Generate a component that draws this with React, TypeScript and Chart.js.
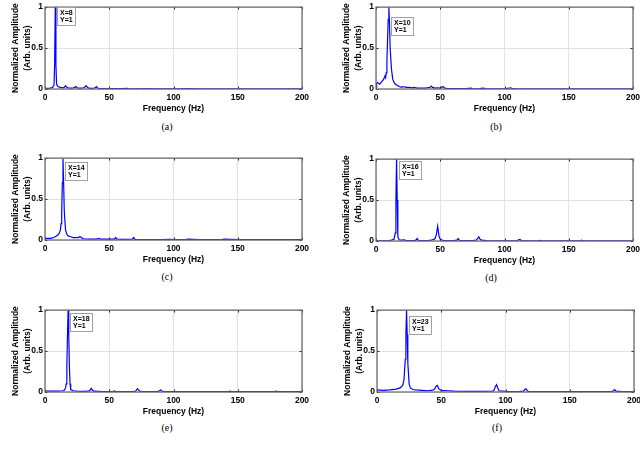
import React, { useEffect, useRef } from "react";
import { Chart, registerables } from "chart.js";

Chart.register(...registerables);

// ---------- data ----------
const xTickValues = [0, 50, 100, 150, 200];
const yTickValues = [0, 0.5, 1];
const xAxisTitle = "Frequency (Hz)";
const yAxisTitle = ["Normalized Amplitude", "(Arb. units)"];
const captions = ["(a)", "(b)", "(c)", "(d)", "(e)", "(f)"];
const peakFreqs = [8, 10, 14, 16, 18, 23];
const peakAmps = [1, 1, 1, 1, 1, 1];

const freqA = [0, 2, 4, 5, 6, 7, 7.5, 8, 8.5, 9, 10, 12, 14, 15, 16, 17, 18, 20, 22, 23, 24, 25, 26, 28, 30, 31, 32, 33, 34, 36, 38, 39, 40, 41, 42, 45, 48, 50, 55, 60, 64, 65, 70, 72, 73, 80, 88, 96, 104, 112, 120, 136, 150, 160, 176, 190, 200];
const ampA = [0.005, 0.008, 0.01, 0.015, 0.02, 0.05, 0.3, 1, 0.3, 0.06, 0.03, 0.02, 0.015, 0.02, 0.04, 0.02, 0.012, 0.01, 0.012, 0.02, 0.03, 0.015, 0.01, 0.01, 0.015, 0.025, 0.04, 0.02, 0.01, 0.008, 0.01, 0.015, 0.03, 0.012, 0.006, 0.005, 0.006, 0.004, 0.004, 0.004, 0.008, 0.003, 0.003, 0.006, 0.003, 0.004, 0.003, 0.003, 0.003, 0.004, 0.003, 0.003, 0.002, 0.003, 0.002, 0.002, 0.002];

const freqB = [0, 0.5, 1, 2, 3, 4, 5, 6, 7, 7.5, 8, 8.5, 9, 9.5, 10, 10.5, 11, 12, 13, 14, 15, 16, 17, 18, 20, 21, 22, 24, 26, 28, 30, 31, 32, 34, 36, 38, 40, 42, 43, 44, 46, 48, 50, 52, 53, 55, 60, 65, 70, 74, 75, 80, 84, 85, 90, 100, 105, 106, 110, 120, 130, 140, 150, 160, 170, 180, 190, 200];
const ampB = [0.02, 0.07, 0.08, 0.07, 0.06, 0.08, 0.1, 0.12, 0.16, 0.14, 0.2, 0.35, 0.6, 0.85, 1, 0.8, 0.5, 0.25, 0.12, 0.08, 0.06, 0.05, 0.04, 0.03, 0.02, 0.03, 0.025, 0.02, 0.02, 0.015, 0.02, 0.015, 0.01, 0.01, 0.01, 0.01, 0.015, 0.02, 0.035, 0.02, 0.01, 0.015, 0.01, 0.03, 0.015, 0.005, 0.005, 0.004, 0.004, 0.01, 0.003, 0.004, 0.01, 0.003, 0.003, 0.003, 0.015, 0.004, 0.003, 0.003, 0.003, 0.003, 0.003, 0.003, 0.003, 0.003, 0.003, 0.003];

const freqC = [0, 2, 4, 6, 8, 10, 11, 12, 12.5, 13, 13.5, 14, 14.5, 15, 16, 17, 18, 20, 22, 24, 26, 27, 28, 29, 30, 35, 40, 41, 42, 43, 45, 50, 54, 55, 56, 60, 68, 69, 70, 75, 83, 90, 97, 100, 110, 111, 120, 130, 138, 139, 150, 160, 170, 180, 190, 200];
const ampC = [0.02, 0.02, 0.02, 0.025, 0.04, 0.06, 0.08, 0.12, 0.2, 0.35, 0.7, 1, 0.7, 0.35, 0.12, 0.07, 0.05, 0.04, 0.03, 0.03, 0.03, 0.04, 0.035, 0.02, 0.015, 0.01, 0.01, 0.015, 0.02, 0.01, 0.01, 0.01, 0.01, 0.03, 0.01, 0.008, 0.01, 0.03, 0.008, 0.006, 0.006, 0.005, 0.008, 0.005, 0.006, 0.01, 0.005, 0.005, 0.006, 0.01, 0.004, 0.004, 0.004, 0.006, 0.004, 0.004];

const freqD = [0, 5, 10, 12, 14, 15, 15.5, 16, 16.5, 17, 18, 20, 22, 23, 26, 30, 31, 32, 33, 36, 40, 43, 44, 45, 46, 47, 48, 49, 50, 51, 52, 55, 60, 63, 64, 65, 70, 75, 78, 79, 80, 81, 82, 84, 86, 90, 100, 110, 111, 112, 113, 120, 127, 128, 129, 140, 143, 144, 145, 159, 160, 161, 170, 180, 190, 200];
const ampD = [0.003, 0.003, 0.005, 0.01, 0.02, 0.1, 0.5, 1, 0.5, 0.05, 0.015, 0.01, 0.015, 0.008, 0.005, 0.005, 0.01, 0.03, 0.008, 0.005, 0.005, 0.01, 0.015, 0.02, 0.03, 0.08, 0.18, 0.06, 0.02, 0.015, 0.008, 0.005, 0.005, 0.01, 0.03, 0.006, 0.004, 0.004, 0.01, 0.03, 0.05, 0.02, 0.01, 0.008, 0.004, 0.003, 0.003, 0.005, 0.015, 0.02, 0.006, 0.003, 0.004, 0.008, 0.003, 0.003, 0.003, 0.006, 0.003, 0.003, 0.01, 0.003, 0.003, 0.003, 0.003, 0.003];

const freqE = [0, 5, 10, 14, 15, 16, 16.5, 17, 17.5, 18, 18.5, 19, 19.5, 20, 22, 25, 30, 34, 35, 36, 37, 38, 45, 53, 54, 55, 60, 70, 71, 72, 73, 74, 80, 88, 89, 90, 91, 92, 100, 110, 120, 130, 143, 144, 145, 160, 170, 179, 180, 181, 190, 200];
const ampE = [0.01, 0.01, 0.01, 0.015, 0.02, 0.05, 0.1, 0.3, 0.7, 1, 0.7, 0.3, 0.1, 0.03, 0.015, 0.01, 0.008, 0.01, 0.02, 0.045, 0.02, 0.01, 0.006, 0.006, 0.012, 0.005, 0.005, 0.006, 0.02, 0.04, 0.02, 0.008, 0.005, 0.008, 0.015, 0.025, 0.012, 0.006, 0.004, 0.004, 0.004, 0.004, 0.004, 0.01, 0.004, 0.004, 0.004, 0.004, 0.01, 0.004, 0.004, 0.004];

const freqF = [0, 5, 10, 15, 18, 20, 21, 22, 22.5, 23, 23.5, 24, 25, 26, 28, 30, 35, 40, 44, 45, 46, 47, 48, 50, 55, 60, 70, 80, 90, 91, 92, 93, 94, 95, 100, 110, 114, 115, 116, 117, 118, 125, 140, 150, 160, 170, 183, 184, 185, 186, 190, 200];
const ampF = [0.025, 0.02, 0.025, 0.035, 0.05, 0.08, 0.15, 0.4, 0.7, 1, 0.7, 0.35, 0.1, 0.05, 0.03, 0.025, 0.02, 0.015, 0.025, 0.04, 0.07, 0.08, 0.04, 0.02, 0.015, 0.01, 0.008, 0.008, 0.01, 0.02, 0.06, 0.09, 0.05, 0.015, 0.008, 0.006, 0.01, 0.03, 0.04, 0.015, 0.006, 0.005, 0.005, 0.005, 0.005, 0.005, 0.008, 0.015, 0.03, 0.01, 0.005, 0.005];

const seriesFreqs = [freqA, freqB, freqC, freqD, freqE, freqF];
const seriesAmps = [ampA, ampB, ampC, ampD, ampE, ampF];

// ---------- layout (not data) ----------
const SANS = "'Liberation Sans', Arial, Helvetica, sans-serif";
const SERIF = "'Liberation Serif', 'Times New Roman', serif";
const PLOT_W = 257;
const PLOT_H = 86;
const Y_AXIS_W = 45;
const CANVAS_W = 315;
const CANVAS_H = 116;
const PAD_TOP = 3;
const panelLayout = [
  { left: 45, top: 3, tipDy: 0, capX: 167, capY: 127 },
  { left: 376, top: 3, tipDy: 10, capX: 496, capY: 127 },
  { left: 45, top: 154, tipDy: 4, capX: 167, capY: 277 },
  { left: 376, top: 155, tipDy: 2, capX: 491, capY: 278 },
  { left: 45, top: 306, tipDy: 3, capX: 167, capY: 428 },
  { left: 377, top: 306, tipDy: 6, capX: 497, capY: 428 },
];

function Panel({ idx }: { idx: number }) {
  const ref = useRef<HTMLCanvasElement | null>(null);
  const lay = panelLayout[idx];
  useEffect(() => {
    if (!ref.current) return;
    const freqs = seriesFreqs[idx];
    const amps = seriesAmps[idx];
    const peakF = peakFreqs[idx];
    const peakA = peakAmps[idx];
    const tickFont = { family: SANS, size: 8.5, weight: "bold" as const, lineHeight: 1.2 };

    const framePlugin = {
      id: "frame" + idx,
      afterDatasetsDraw(chart: any) {
        const { ctx, chartArea: a, scales } = chart;
        ctx.save();
        ctx.strokeStyle = "#262626";
        ctx.lineWidth = 1;
        ctx.beginPath();
        for (const v of xTickValues) {
          const px = Math.round(scales.x.getPixelForValue(v)) + 0.5;
          ctx.moveTo(px, a.bottom);
          ctx.lineTo(px, a.bottom - 2.5);
          ctx.moveTo(px, a.top);
          ctx.lineTo(px, a.top + 2.5);
        }
        for (const v of yTickValues) {
          const py = Math.round(scales.y.getPixelForValue(v)) + 0.5;
          ctx.moveTo(a.left, py);
          ctx.lineTo(a.left + 2.5, py);
          ctx.moveTo(a.right, py);
          ctx.lineTo(a.right - 2.5, py);
        }
        ctx.stroke();
        ctx.strokeStyle = "#6e6e6e";
        ctx.lineWidth = 1.3;
        ctx.strokeRect(a.left, a.top, a.right - a.left, a.bottom - a.top);
        ctx.restore();
      },
      afterDraw(chart: any) {
        const { ctx, chartArea: a, scales } = chart;
        const px = scales.x.getPixelForValue(peakF);
        const l1 = "X=" + peakF;
        const l2 = "Y=" + peakA;
        ctx.save();
        ctx.font = "bold 7px " + SANS;
        const w = Math.ceil(Math.max(ctx.measureText(l1).width, ctx.measureText(l2).width)) + 5;
        const h = 18;
        const bx = Math.round(px) + 2.5;
        const by = Math.round(a.top + lay.tipDy) + 0.5;
        ctx.fillStyle = "#ffffff";
        ctx.fillRect(bx, by, w, h);
        ctx.strokeStyle = "#a0a0a0";
        ctx.lineWidth = 1;
        ctx.strokeRect(bx, by, w, h);
        ctx.fillStyle = "#000000";
        ctx.textBaseline = "middle";
        ctx.textAlign = "left";
        ctx.fillText(l1, bx + 2.5, by + 5.5);
        ctx.fillText(l2, bx + 2.5, by + 13);
        ctx.restore();
      },
    };

    const chart = new Chart(ref.current, {
      type: "line",
      data: {
        datasets: [
          {
            data: freqs.map((f, i) => ({ x: f, y: amps[i] })),
            borderColor: "#0000ff",
            borderWidth: 1.2,
            pointRadius: 0,
            tension: 0,
            fill: false,
          },
        ],
      },
      options: {
        animation: false,
        responsive: false,
        maintainAspectRatio: false,
        events: [],
        layout: {
          padding: { top: PAD_TOP, left: 0, bottom: 0, right: CANVAS_W - Y_AXIS_W - PLOT_W },
        },
        plugins: { legend: { display: false }, tooltip: { enabled: false }, title: { display: false } },
        scales: {
          x: {
            type: "linear",
            min: 0,
            max: 200,
            afterBuildTicks: (s: any) => {
              s.ticks = xTickValues.map((v) => ({ value: v }));
            },
            grid: { color: "#e2e2e2", lineWidth: 1, drawTicks: false },
            border: { display: false },
            ticks: {
              font: tickFont,
              color: "#000",
              padding: 4,
              maxRotation: 0,
              autoSkip: false,
              callback: (v: any) => String(v),
            },
            title: {
              display: true,
              text: xAxisTitle,
              color: "#000",
              font: { family: SANS, size: 8.5, weight: "bold", lineHeight: 1.2 },
              padding: { top: 0, bottom: 2 },
            },
            afterFit: (s: any) => {
              s.height = CANVAS_H - PAD_TOP - PLOT_H;
            },
          },
          y: {
            type: "linear",
            min: 0,
            max: 1,
            afterBuildTicks: (s: any) => {
              s.ticks = yTickValues.map((v) => ({ value: v }));
            },
            grid: { color: "#e2e2e2", lineWidth: 1, drawTicks: false },
            border: { display: false },
            ticks: {
              font: tickFont,
              color: "#000",
              padding: 2,
              autoSkip: false,
              callback: (v: any) => String(v),
            },
            title: {
              display: true,
              text: yAxisTitle,
              color: "#000",
              font: { family: SANS, size: 8.5, weight: "bold", lineHeight: 1.45 },
              padding: { top: 9.4, bottom: 0 },
            },
            afterFit: (s: any) => {
              s.width = Y_AXIS_W;
            },
          },
        },
      },
      plugins: [framePlugin],
    } as any);
    return () => chart.destroy();
  }, [idx]);

  return (
    <>
      <canvas
        ref={ref}
        width={CANVAS_W}
        height={CANVAS_H}
        style={{
          position: "absolute",
          left: lay.left - Y_AXIS_W,
          top: lay.top - PAD_TOP,
          width: CANVAS_W,
          height: CANVAS_H,
        }}
      />
      <div
        style={{
          position: "absolute",
          left: lay.capX - 20,
          top: lay.capY - 6,
          width: 40,
          textAlign: "center",
          fontFamily: SERIF,
          fontSize: 10,
          lineHeight: "12px",
          color: "#000",
        }}
      >
        {captions[idx]}
      </div>
    </>
  );
}

export default function App() {
  return (
    <div
      style={{
        position: "absolute",
        left: 0,
        top: 0,
        width: 640,
        height: 449,
        background: "#ffffff",
        overflow: "hidden",
      }}
    >
      {captions.map((_, i) => (
        <Panel key={i} idx={i} />
      ))}
    </div>
  );
}
